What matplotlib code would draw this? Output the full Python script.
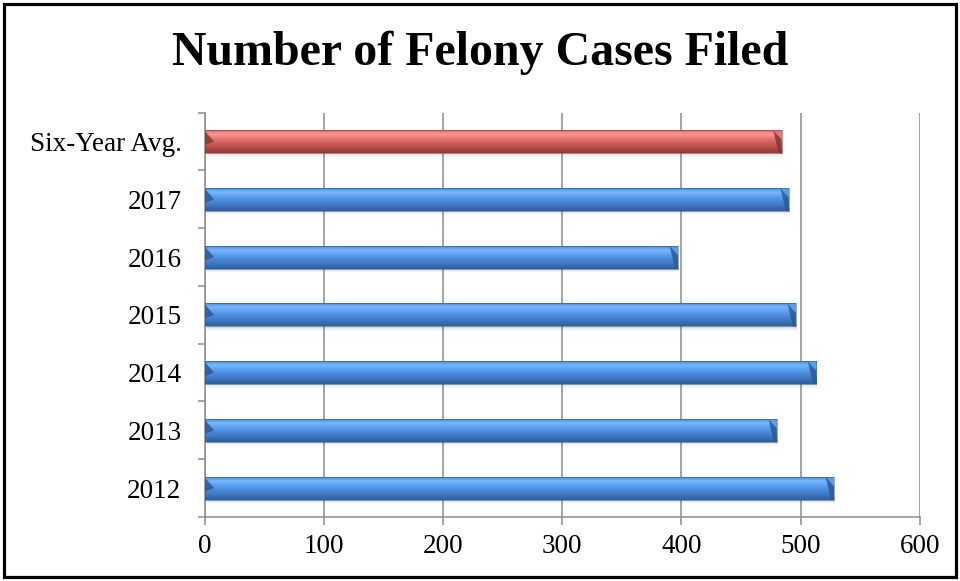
import matplotlib
matplotlib.use("Agg")
import matplotlib.pyplot as plt
import numpy as np
from matplotlib.patches import Rectangle, Polygon
from matplotlib.colors import LinearSegmentedColormap

categories = ["2012", "2013", "2014", "2015", "2016", "2017", "Six-Year Avg."]
values = [528, 480, 513, 496, 397, 490, 484]
bar_kind = ["year", "year", "year", "year", "year", "year", "avg"]
x_ticks = [0, 100, 200, 300, 400, 500, 600]
title = "Number of Felony Cases Filed"

plt.rcParams['font.family'] = ['Liberation Serif', 'DejaVu Serif']

fig = plt.figure(figsize=(9.6, 5.81), dpi=100)
ax = fig.add_axes([205/960, 1-517/581, (919.7-205)/960, (517-112.7)/581])

pos = np.arange(len(categories))
h = 0.4
bars = ax.barh(pos, values, height=h, color='none', edgecolor='none', zorder=3)

# gradient colors (top -> bottom)
grad = {
    "year": ["#3f7cc4", "#7ab8ff", "#5a9ef0", "#4a88d8", "#3d74bd", "#2f5d98"],
    "avg": ["#c65a57", "#ff9a98", "#e57572", "#cc5a57", "#b44b48", "#8e3a38"],
}
bevel = {"year": ("#2c5a92", "#5d9be6"), "avg": ("#8a3634", "#e57a77")}

for b, v, kind in zip(bars, values, bar_kind):
    y0 = b.get_y()
    cmap = LinearSegmentedColormap.from_list(kind, grad[kind])
    g = np.linspace(0, 1, 64).reshape(-1, 1)
    # shadow
    for i, a in enumerate([0.10, 0.07, 0.045, 0.025]):
        ax.add_patch(Rectangle((2, y0 - 0.02*(i+1)), v - 1, 0.02*(i+1) + 0.05,
                               facecolor='#555555', alpha=a, edgecolor='none', zorder=2))
    im = ax.imshow(g, cmap=cmap, aspect='auto', extent=[0, v, y0, y0 + h],
                   origin='upper', zorder=3, interpolation='bicubic')
    im.set_clip_path(b)
    # bevels
    d = 7.0
    dark, mid = bevel[kind]
    ax.add_patch(Polygon([[v - d, y0 + h], [v, y0 + h*0.6], [v, y0], [v - d*0.35, y0]],
                         closed=True, facecolor=dark, alpha=0.85, edgecolor='none', zorder=4))
    ax.add_patch(Polygon([[v - d, y0 + h], [v, y0 + h], [v, y0 + h*0.6]],
                         closed=True, facecolor=mid, alpha=0.9, edgecolor='none', zorder=4))
    ax.add_patch(Polygon([[0, y0 + h*0.95], [d*1.1, y0 + h*0.5], [0, y0 + h*0.35]],
                         closed=True, facecolor=dark, alpha=0.85, edgecolor='none', zorder=4))
    ax.add_patch(Rectangle((0, y0), v, h, facecolor='none', edgecolor=dark,
                           lw=0.6, alpha=0.6, zorder=4))

ax.set_xlim(0, 600)
ax.set_ylim(-0.5, len(categories) - 0.5)
ax.set_xticks(x_ticks)
ax.set_xticklabels([str(t) for t in x_ticks])
ax.set_yticks(pos)
ax.set_yticklabels(categories)
ax.set_yticks(np.arange(-0.5, len(categories), 1.0), minor=True)

ax.grid(axis='x', color='#8c8c8c', lw=1.1, zorder=1)
ax.set_axisbelow(True)
for s in ['top', 'right']:
    ax.spines[s].set_visible(False)
for s in ['left', 'bottom']:
    ax.spines[s].set_color('#8c8c8c')
    ax.spines[s].set_linewidth(1.1)

ax.tick_params(axis='y', which='major', length=0, pad=17, labelsize=19.5)
ax.tick_params(axis='y', which='minor', length=5, width=1.1, color='#8c8c8c', direction='out')
ax.tick_params(axis='x', which='major', length=6, width=1.1, color='#8c8c8c', pad=6, labelsize=19.5)

fig.text(0.5, 1 - 53/581, title, ha='center', va='center', fontsize=34.5, fontweight='bold')

fig.patches.append(Rectangle((4/960, 4/581), 952/960, 573/581, transform=fig.transFigure,
                             facecolor='none', edgecolor='black', lw=2.3))

fig.savefig("out.png", dpi=100)
